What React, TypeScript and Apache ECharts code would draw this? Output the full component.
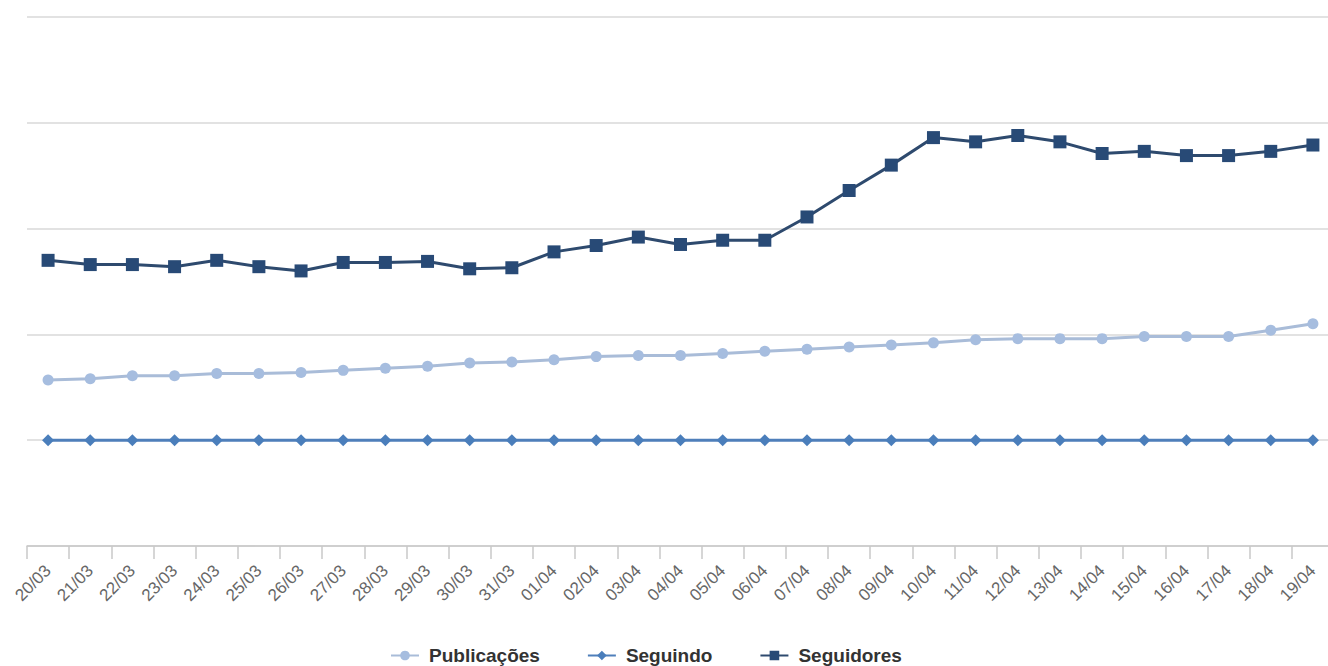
import React, { useEffect, useRef } from "react";
import * as echarts from "echarts";

const categories = [
  "20/03", "21/03", "22/03", "23/03", "24/03", "25/03", "26/03", "27/03", "28/03", "29/03",
  "30/03", "31/03", "01/04", "02/04", "03/04", "04/04", "05/04", "06/04", "07/04", "08/04",
  "09/04", "10/04", "11/04", "12/04", "13/04", "14/04", "15/04", "16/04", "17/04", "18/04", "19/04",
];

const publicacoes = [
  1.57, 1.58, 1.61, 1.61, 1.63, 1.63, 1.64, 1.66, 1.68, 1.7,
  1.73, 1.74, 1.76, 1.79, 1.8, 1.8, 1.82, 1.84, 1.86, 1.88,
  1.9, 1.92, 1.95, 1.96, 1.96, 1.96, 1.98, 1.98, 1.98, 2.04, 2.1,
];

const seguindo = [
  1, 1, 1, 1, 1, 1, 1, 1, 1, 1,
  1, 1, 1, 1, 1, 1, 1, 1, 1, 1,
  1, 1, 1, 1, 1, 1, 1, 1, 1, 1, 1,
];

const seguidores = [
  2.7, 2.66, 2.66, 2.64, 2.7, 2.64, 2.6, 2.68, 2.68, 2.69,
  2.62, 2.63, 2.78, 2.84, 2.92, 2.85, 2.89, 2.89, 3.11, 3.36,
  3.6, 3.86, 3.82, 3.88, 3.82, 3.71, 3.73, 3.69, 3.69, 3.73, 3.79,
];

const seriesNames = ["Publicações", "Seguindo", "Seguidores"];

export default function App() {
  const ref = useRef<HTMLDivElement>(null);

  useEffect(() => {
    if (!ref.current) return;
    const chart = echarts.init(ref.current, undefined, { renderer: "svg" });
    chart.setOption({
      animation: false,
      backgroundColor: "#ffffff",
      grid: { left: 27, right: 0, top: 17, bottom: 120, containLabel: false },
      legend: {
        data: seriesNames,
        top: 646,
        left: 390,
        padding: 0,
        itemWidth: 28,
        itemHeight: 12,
        itemGap: 47,
        textStyle: {
          fontFamily: "Liberation Sans, Arial, sans-serif",
          fontWeight: "bold",
          fontSize: 19,
          color: "#333333",
          padding: [0, 0, 0, 5],
        },
      },
      xAxis: {
        type: "category",
        data: categories,
        boundaryGap: true,
        axisLine: { lineStyle: { color: "#c8c8c8", width: 1.5 } },
        axisTick: { show: true, alignWithLabel: false, length: 13, lineStyle: { color: "#c8c8c8", width: 1.5 } },
        axisLabel: {
          rotate: 45,
          interval: 0,
          margin: 22,
          color: "#666666",
          fontSize: 17,
          fontFamily: "Liberation Sans, Arial, sans-serif",
        },
        splitLine: { show: false },
      },
      yAxis: {
        type: "value",
        min: 0,
        max: 5,
        interval: 1,
        axisLabel: { show: false },
        axisLine: { show: false },
        axisTick: { show: false },
        splitLine: { lineStyle: { color: "#d9d9d9", width: 1.5 } },
      },
      series: [
        {
          name: seriesNames[0],
          type: "line",
          data: publicacoes,
          symbol: "circle",
          symbolSize: 11,
          lineStyle: { color: "#a9bcd8", width: 3 },
          itemStyle: { color: "#a6bddf" },
        },
        {
          name: seriesNames[1],
          type: "line",
          data: seguindo,
          symbol: "diamond",
          symbolSize: 12,
          lineStyle: { color: "#4f7fba", width: 3 },
          itemStyle: { color: "#4a7ebb" },
        },
        {
          name: seriesNames[2],
          type: "line",
          data: seguidores,
          symbol: "rect",
          symbolSize: 13,
          lineStyle: { color: "#2e4a6e", width: 3 },
          itemStyle: { color: "#284a76" },
        },
      ],
    });
    return () => chart.dispose();
  }, []);

  return (
    <div style={{ position: "fixed", left: 0, top: 0, width: 1328, height: 666, overflow: "hidden", background: "#fff" }}>
      <div ref={ref} style={{ width: 1334, height: 666 }} />
    </div>
  );
}
